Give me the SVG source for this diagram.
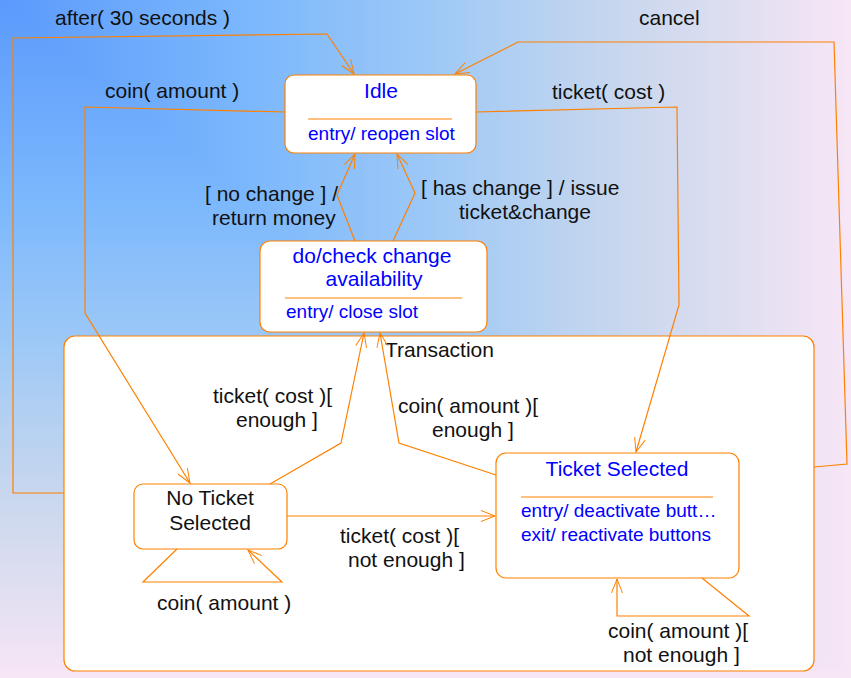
<svg xmlns="http://www.w3.org/2000/svg" width="851" height="678" viewBox="0 0 851 678">
<defs>
<linearGradient id="gh" gradientUnits="userSpaceOnUse" x1="0" y1="0" x2="851" y2="0">
<stop offset="0" stop-color="#5b9afc"/>
<stop offset="0.3" stop-color="#7cb8fc"/>
<stop offset="0.5" stop-color="#9cc8f7"/>
<stop offset="0.6" stop-color="#b0cff2"/>
<stop offset="0.75" stop-color="#ccd8ee"/>
<stop offset="0.9" stop-color="#e5e0f2"/>
<stop offset="1" stop-color="#f7e6f6"/>
</linearGradient>
<linearGradient id="gv" gradientUnits="userSpaceOnUse" x1="0" y1="0" x2="0" y2="678">
<stop offset="0" stop-color="#5b9afc"/>
<stop offset="0.3" stop-color="#7cb8fc"/>
<stop offset="0.5" stop-color="#9cc8f7"/>
<stop offset="0.6" stop-color="#b0cff2"/>
<stop offset="0.75" stop-color="#ccd8ee"/>
<stop offset="0.9" stop-color="#e5e0f2"/>
<stop offset="1" stop-color="#f7e6f6"/>
</linearGradient>
<marker id="arr" markerUnits="userSpaceOnUse" markerWidth="20" markerHeight="16" viewBox="-16 -8 20 16" refX="0" refY="0" orient="auto" overflow="visible">
<path d="M-14,-5.5 L0,0 L-14,5.5" fill="none" stroke="#ff8000" stroke-width="1"/>
</marker>
</defs>
<style>
.node{fill:#fff;stroke:#ff8000;stroke-width:1.2}
.sep{stroke:#ff8000;stroke-width:1}
.c{fill:none;stroke:#ff8000;stroke-width:1.2;marker-end:url(#arr)}
.lbl{font-family:"Liberation Sans",Arial,sans-serif;font-size:21px;fill:#111}
.ttl{font-family:"Liberation Sans",Arial,sans-serif;font-size:21px;fill:#0000ff}
.act{font-family:"Liberation Sans",Arial,sans-serif;font-size:19px;fill:#0000ff}
.mid{text-anchor:middle}
</style>
<rect x="0" y="0" width="851" height="678" fill="url(#gv)"/>
<polygon points="0,0 851,0 851,678" fill="url(#gh)" shape-rendering="crispEdges"/>

<g id="transaction">
<rect class="node" x="64" y="336" width="750" height="335" rx="11"/>
<text class="lbl" x="385" y="357">Transaction</text>
</g>

<g id="idle">
<rect class="node" x="285" y="75" width="191" height="78" rx="9"/>
<text class="ttl mid" x="381" y="98">Idle</text>
<line class="sep" x1="308" y1="119" x2="452" y2="119"/>
<text class="act" x="308" y="140">entry/ reopen slot</text>
</g>

<g id="check">
<rect class="node" x="260" y="241" width="227" height="91" rx="10"/>
<text class="ttl mid" x="372" y="263">do/check change</text>
<text class="ttl mid" x="374" y="286">availability</text>
<line class="sep" x1="285" y1="298" x2="462" y2="298"/>
<text class="act" x="286" y="318">entry/ close slot</text>
</g>

<g id="noticket">
<rect class="node" x="134" y="484" width="153" height="65" rx="9"/>
<text class="lbl mid" x="210" y="505">No Ticket</text>
<text class="lbl mid" x="210" y="530">Selected</text>
</g>

<g id="ticketselected">
<rect class="node" x="496" y="453" width="243" height="125" rx="10"/>
<text class="ttl mid" x="617" y="476">Ticket Selected</text>
<line class="sep" x1="521" y1="497" x2="713" y2="497"/>
<text class="act" x="521" y="517">entry/ deactivate butt…</text>
<text class="act" x="521" y="541">exit/ reactivate buttons</text>
</g>

<g id="connectors">
<polyline class="c" points="64,493 13,493 13,38 327,34 354,74"/>
<polyline class="c" points="814,467 847,464 834,42 518,42 455,74"/>
<polyline class="c" points="285,112 85,107 85,313 190,483"/>
<polyline class="c" points="476,112 677,107 679,305 636,452"/>
<polyline class="c" points="355,241 337,195 355,154"/>
<polyline class="c" points="393,241 415,193 397,154"/>
<polyline class="c" points="270,484 341,443 364,333"/>
<polyline class="c" points="496,475 399,443 380,333"/>
<polyline class="c" points="287,516 495,516"/>
<polyline class="c" points="177,549 143,582 282,582 248,550"/>
<polyline class="c" points="702,578 749,616 617,616 617,579"/>
</g>

<g id="labels">
<text class="lbl" x="55" y="25">after( 30 seconds )</text>
<text class="lbl" x="639" y="25">cancel</text>
<text class="lbl" x="105" y="98">coin( amount )</text>
<text class="lbl" x="552" y="99">ticket( cost )</text>
<text class="lbl" x="205" y="201">[ no change ] /</text>
<text class="lbl" x="212" y="225">return money</text>
<text class="lbl" x="421" y="195">[ has change ] / issue</text>
<text class="lbl" x="459" y="219">ticket&amp;change</text>
<text class="lbl" x="213" y="403">ticket( cost )[</text>
<text class="lbl" x="236" y="427">enough ]</text>
<text class="lbl" x="398" y="413">coin( amount )[</text>
<text class="lbl" x="432" y="437">enough ]</text>
<text class="lbl" x="340" y="543">ticket( cost )[</text>
<text class="lbl" x="348" y="567">not enough ]</text>
<text class="lbl" x="157" y="610">coin( amount )</text>
<text class="lbl" x="608" y="638">coin( amount )[</text>
<text class="lbl" x="623" y="662">not enough ]</text>
</g>
</svg>
